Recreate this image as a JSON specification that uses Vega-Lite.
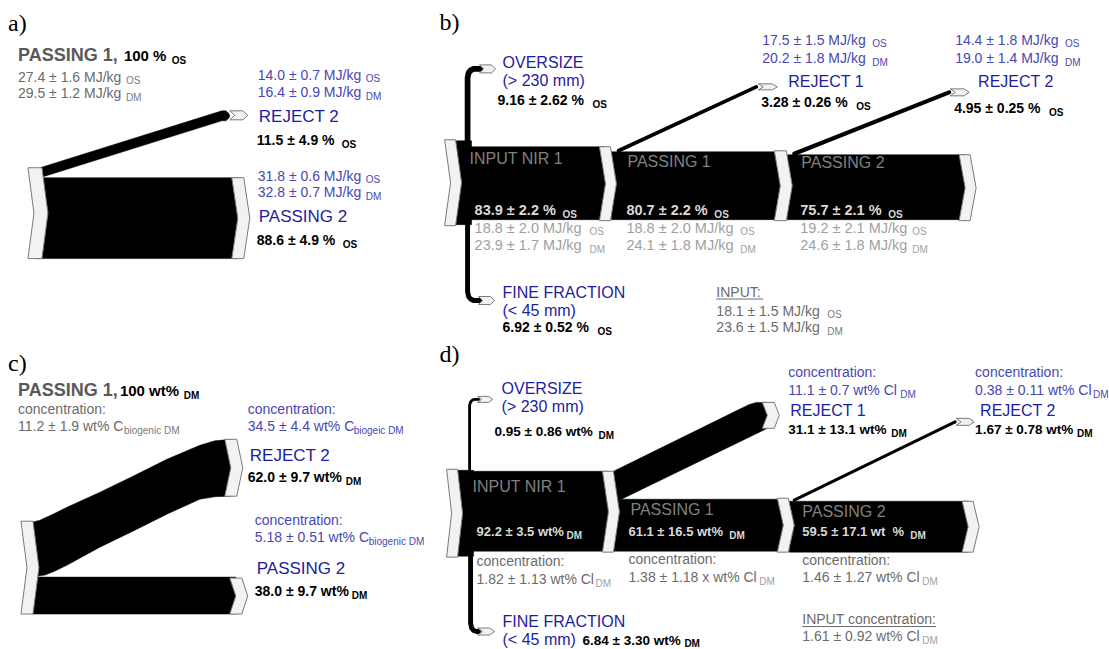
{
  "$schema": "https://vega.github.io/schema/vega-lite/v6.json",
  "width": 1109,
  "height": 649,
  "autosize": {"type": "fit", "contains": "padding"},
  "padding": 0,
  "background": "white",
  "config": {"view": {"stroke": null}},
  "datasets": {
    "shapes": [
      {"id":"a_main","kind":"band","i":0,"x":36,"y":178},{"id":"a_main","kind":"band","i":1,"x":238,"y":178},{"id":"a_main","kind":"band","i":2,"x":238,"y":259},{"id":"a_main","kind":"band","i":3,"x":36,"y":259},
      {"id":"a_rej","kind":"band","i":0,"x":40,"y":168},{"id":"a_rej","kind":"band","i":1,"x":222,"y":111},{"id":"a_rej","kind":"band","i":2,"x":226,"y":111},{"id":"a_rej","kind":"band","i":3,"x":229,"y":113.5},{"id":"a_rej","kind":"band","i":4,"x":230,"y":116},{"id":"a_rej","kind":"band","i":5,"x":229,"y":118.5},{"id":"a_rej","kind":"band","i":6,"x":226,"y":121},{"id":"a_rej","kind":"band","i":7,"x":222,"y":121},{"id":"a_rej","kind":"band","i":8,"x":40,"y":178},
      {"id":"b_side","kind":"band","i":0,"x":454,"y":141},{"id":"b_side","kind":"band","i":1,"x":472,"y":141},{"id":"b_side","kind":"band","i":2,"x":472,"y":225},{"id":"b_side","kind":"band","i":3,"x":454,"y":225},
      {"id":"b_in","kind":"band","i":0,"x":460,"y":147},{"id":"b_in","kind":"band","i":1,"x":606,"y":147},{"id":"b_in","kind":"band","i":2,"x":606,"y":220},{"id":"b_in","kind":"band","i":3,"x":460,"y":220},
      {"id":"b_p1","kind":"band","i":0,"x":612,"y":152},{"id":"b_p1","kind":"band","i":1,"x":781,"y":152},{"id":"b_p1","kind":"band","i":2,"x":781,"y":220},{"id":"b_p1","kind":"band","i":3,"x":612,"y":220},
      {"id":"b_p2","kind":"band","i":0,"x":788,"y":155},{"id":"b_p2","kind":"band","i":1,"x":966,"y":155},{"id":"b_p2","kind":"band","i":2,"x":966,"y":220},{"id":"b_p2","kind":"band","i":3,"x":788,"y":220},
      {"id":"c_rej","kind":"band","i":0,"x":32,"y":523},{"id":"c_rej","kind":"band","i":1,"x":40,"y":521},{"id":"c_rej","kind":"band","i":2,"x":55,"y":514},{"id":"c_rej","kind":"band","i":3,"x":67,"y":508},{"id":"c_rej","kind":"band","i":4,"x":100,"y":493},{"id":"c_rej","kind":"band","i":5,"x":133,"y":477},{"id":"c_rej","kind":"band","i":6,"x":167,"y":460},{"id":"c_rej","kind":"band","i":7,"x":200,"y":446},{"id":"c_rej","kind":"band","i":8,"x":215,"y":441.5},{"id":"c_rej","kind":"band","i":9,"x":231,"y":440},{"id":"c_rej","kind":"band","i":10,"x":231,"y":497},{"id":"c_rej","kind":"band","i":11,"x":215,"y":497.5},{"id":"c_rej","kind":"band","i":12,"x":200,"y":500},{"id":"c_rej","kind":"band","i":13,"x":167,"y":515},{"id":"c_rej","kind":"band","i":14,"x":133,"y":532},{"id":"c_rej","kind":"band","i":15,"x":100,"y":548},{"id":"c_rej","kind":"band","i":16,"x":67,"y":566},{"id":"c_rej","kind":"band","i":17,"x":55,"y":572},{"id":"c_rej","kind":"band","i":18,"x":45,"y":576},{"id":"c_rej","kind":"band","i":19,"x":32,"y":578},
      {"id":"c_pass","kind":"band","i":0,"x":32,"y":578},{"id":"c_pass","kind":"band","i":1,"x":236,"y":578},{"id":"c_pass","kind":"band","i":2,"x":236,"y":615},{"id":"c_pass","kind":"band","i":3,"x":32,"y":615},
      {"id":"d_side","kind":"band","i":0,"x":456,"y":471},{"id":"d_side","kind":"band","i":1,"x":474,"y":471},{"id":"d_side","kind":"band","i":2,"x":474,"y":557},{"id":"d_side","kind":"band","i":3,"x":456,"y":557},
      {"id":"d_in","kind":"band","i":0,"x":460,"y":472},{"id":"d_in","kind":"band","i":1,"x":609,"y":472},{"id":"d_in","kind":"band","i":2,"x":609,"y":552},{"id":"d_in","kind":"band","i":3,"x":460,"y":552},
      {"id":"d_rej1","kind":"band","i":0,"x":614,"y":472},{"id":"d_rej1","kind":"band","i":1,"x":740,"y":410},{"id":"d_rej1","kind":"band","i":2,"x":750,"y":405},{"id":"d_rej1","kind":"band","i":3,"x":757,"y":403},{"id":"d_rej1","kind":"band","i":4,"x":768,"y":403},{"id":"d_rej1","kind":"band","i":5,"x":768,"y":429},{"id":"d_rej1","kind":"band","i":6,"x":622,"y":500},{"id":"d_rej1","kind":"band","i":7,"x":614,"y":500},
      {"id":"d_p1","kind":"band","i":0,"x":614,"y":500},{"id":"d_p1","kind":"band","i":1,"x":784,"y":500},{"id":"d_p1","kind":"band","i":2,"x":784,"y":552},{"id":"d_p1","kind":"band","i":3,"x":614,"y":552},
      {"id":"d_p2","kind":"band","i":0,"x":790,"y":502},{"id":"d_p2","kind":"band","i":1,"x":969,"y":502},{"id":"d_p2","kind":"band","i":2,"x":969,"y":553},{"id":"d_p2","kind":"band","i":3,"x":790,"y":553},

      {"id":"A1","kind":"node","i":0,"x":28,"y":168},{"id":"A1","kind":"node","i":1,"x":42,"y":168},{"id":"A1","kind":"node","i":2,"x":48,"y":213.5},{"id":"A1","kind":"node","i":3,"x":42,"y":259},{"id":"A1","kind":"node","i":4,"x":28,"y":259},{"id":"A1","kind":"node","i":5,"x":34,"y":213.5},
      {"id":"A2","kind":"node","i":0,"x":232,"y":178},{"id":"A2","kind":"node","i":1,"x":244,"y":178},{"id":"A2","kind":"node","i":2,"x":250,"y":218.5},{"id":"A2","kind":"node","i":3,"x":244,"y":259},{"id":"A2","kind":"node","i":4,"x":232,"y":259},{"id":"A2","kind":"node","i":5,"x":238,"y":218.5},
      {"id":"A3","kind":"node","i":0,"x":230,"y":111},{"id":"A3","kind":"node","i":1,"x":243,"y":111},{"id":"A3","kind":"node","i":2,"x":248,"y":115.5},{"id":"A3","kind":"node","i":3,"x":243,"y":120},{"id":"A3","kind":"node","i":4,"x":230,"y":120},{"id":"A3","kind":"node","i":5,"x":235,"y":115.5},
      {"id":"B1","kind":"node","i":0,"x":445,"y":140},{"id":"B1","kind":"node","i":1,"x":456,"y":140},{"id":"B1","kind":"node","i":2,"x":462,"y":183},{"id":"B1","kind":"node","i":3,"x":456,"y":226},{"id":"B1","kind":"node","i":4,"x":445,"y":226},{"id":"B1","kind":"node","i":5,"x":451,"y":183},
      {"id":"B2","kind":"node","i":0,"x":600,"y":147},{"id":"B2","kind":"node","i":1,"x":611,"y":147},{"id":"B2","kind":"node","i":2,"x":617,"y":184},{"id":"B2","kind":"node","i":3,"x":611,"y":221},{"id":"B2","kind":"node","i":4,"x":600,"y":221},{"id":"B2","kind":"node","i":5,"x":606,"y":184},
      {"id":"B3","kind":"node","i":0,"x":775,"y":151},{"id":"B3","kind":"node","i":1,"x":787,"y":151},{"id":"B3","kind":"node","i":2,"x":793,"y":186},{"id":"B3","kind":"node","i":3,"x":787,"y":221},{"id":"B3","kind":"node","i":4,"x":775,"y":221},{"id":"B3","kind":"node","i":5,"x":781,"y":186},
      {"id":"B4","kind":"node","i":0,"x":960,"y":155},{"id":"B4","kind":"node","i":1,"x":971,"y":155},{"id":"B4","kind":"node","i":2,"x":977,"y":188},{"id":"B4","kind":"node","i":3,"x":971,"y":221},{"id":"B4","kind":"node","i":4,"x":960,"y":221},{"id":"B4","kind":"node","i":5,"x":966,"y":188},
      {"id":"B5","kind":"node","i":0,"x":480,"y":65},{"id":"B5","kind":"node","i":1,"x":492,"y":65},{"id":"B5","kind":"node","i":2,"x":496,"y":69},{"id":"B5","kind":"node","i":3,"x":492,"y":73},{"id":"B5","kind":"node","i":4,"x":480,"y":73},{"id":"B5","kind":"node","i":5,"x":484,"y":69},
      {"id":"B6","kind":"node","i":0,"x":479,"y":297},{"id":"B6","kind":"node","i":1,"x":491,"y":297},{"id":"B6","kind":"node","i":2,"x":495,"y":301},{"id":"B6","kind":"node","i":3,"x":491,"y":305},{"id":"B6","kind":"node","i":4,"x":479,"y":305},{"id":"B6","kind":"node","i":5,"x":483,"y":301},
      {"id":"B7","kind":"node","i":0,"x":759,"y":84},{"id":"B7","kind":"node","i":1,"x":773,"y":84},{"id":"B7","kind":"node","i":2,"x":778,"y":87},{"id":"B7","kind":"node","i":3,"x":773,"y":90},{"id":"B7","kind":"node","i":4,"x":759,"y":90},{"id":"B7","kind":"node","i":5,"x":764,"y":87},
      {"id":"B8","kind":"node","i":0,"x":951,"y":89},{"id":"B8","kind":"node","i":1,"x":965,"y":89},{"id":"B8","kind":"node","i":2,"x":970,"y":92.5},{"id":"B8","kind":"node","i":3,"x":965,"y":96},{"id":"B8","kind":"node","i":4,"x":951,"y":96},{"id":"B8","kind":"node","i":5,"x":956,"y":92.5},
      {"id":"C1","kind":"node","i":0,"x":21,"y":522},{"id":"C1","kind":"node","i":1,"x":33,"y":522},{"id":"C1","kind":"node","i":2,"x":39,"y":568.5},{"id":"C1","kind":"node","i":3,"x":33,"y":615},{"id":"C1","kind":"node","i":4,"x":21,"y":615},{"id":"C1","kind":"node","i":5,"x":27,"y":568.5},
      {"id":"C2","kind":"node","i":0,"x":225,"y":440},{"id":"C2","kind":"node","i":1,"x":237,"y":440},{"id":"C2","kind":"node","i":2,"x":243,"y":468.5},{"id":"C2","kind":"node","i":3,"x":237,"y":497},{"id":"C2","kind":"node","i":4,"x":225,"y":497},{"id":"C2","kind":"node","i":5,"x":231,"y":468.5},
      {"id":"C3","kind":"node","i":0,"x":230,"y":579},{"id":"C3","kind":"node","i":1,"x":242,"y":579},{"id":"C3","kind":"node","i":2,"x":248,"y":597},{"id":"C3","kind":"node","i":3,"x":242,"y":615},{"id":"C3","kind":"node","i":4,"x":230,"y":615},{"id":"C3","kind":"node","i":5,"x":236,"y":597},
      {"id":"D1","kind":"node","i":0,"x":447,"y":470},{"id":"D1","kind":"node","i":1,"x":458,"y":470},{"id":"D1","kind":"node","i":2,"x":463,"y":514},{"id":"D1","kind":"node","i":3,"x":458,"y":558},{"id":"D1","kind":"node","i":4,"x":447,"y":558},{"id":"D1","kind":"node","i":5,"x":452,"y":514},
      {"id":"D2","kind":"node","i":0,"x":603,"y":472},{"id":"D2","kind":"node","i":1,"x":614,"y":472},{"id":"D2","kind":"node","i":2,"x":620,"y":512.5},{"id":"D2","kind":"node","i":3,"x":614,"y":553},{"id":"D2","kind":"node","i":4,"x":603,"y":553},{"id":"D2","kind":"node","i":5,"x":609,"y":512.5},
      {"id":"D3","kind":"node","i":0,"x":778,"y":499},{"id":"D3","kind":"node","i":1,"x":789,"y":499},{"id":"D3","kind":"node","i":2,"x":795,"y":526},{"id":"D3","kind":"node","i":3,"x":789,"y":553},{"id":"D3","kind":"node","i":4,"x":778,"y":553},{"id":"D3","kind":"node","i":5,"x":784,"y":526},
      {"id":"D4","kind":"node","i":0,"x":963,"y":502},{"id":"D4","kind":"node","i":1,"x":974,"y":502},{"id":"D4","kind":"node","i":2,"x":980,"y":527.5},{"id":"D4","kind":"node","i":3,"x":974,"y":553},{"id":"D4","kind":"node","i":4,"x":963,"y":553},{"id":"D4","kind":"node","i":5,"x":969,"y":527.5},
      {"id":"D5","kind":"node","i":0,"x":763,"y":403},{"id":"D5","kind":"node","i":1,"x":775,"y":403},{"id":"D5","kind":"node","i":2,"x":780,"y":416},{"id":"D5","kind":"node","i":3,"x":775,"y":429},{"id":"D5","kind":"node","i":4,"x":763,"y":429},{"id":"D5","kind":"node","i":5,"x":768,"y":416},
      {"id":"D6","kind":"node","i":0,"x":478,"y":397},{"id":"D6","kind":"node","i":1,"x":489,"y":397},{"id":"D6","kind":"node","i":2,"x":493,"y":400},{"id":"D6","kind":"node","i":3,"x":489,"y":403},{"id":"D6","kind":"node","i":4,"x":478,"y":403},{"id":"D6","kind":"node","i":5,"x":482,"y":400},
      {"id":"D7","kind":"node","i":0,"x":478,"y":629},{"id":"D7","kind":"node","i":1,"x":490,"y":629},{"id":"D7","kind":"node","i":2,"x":495,"y":632.5},{"id":"D7","kind":"node","i":3,"x":490,"y":636},{"id":"D7","kind":"node","i":4,"x":478,"y":636},{"id":"D7","kind":"node","i":5,"x":483,"y":632.5},
      {"id":"D8","kind":"node","i":0,"x":957,"y":419},{"id":"D8","kind":"node","i":1,"x":970,"y":419},{"id":"D8","kind":"node","i":2,"x":975,"y":422.5},{"id":"D8","kind":"node","i":3,"x":970,"y":426},{"id":"D8","kind":"node","i":4,"x":957,"y":426},{"id":"D8","kind":"node","i":5,"x":962,"y":422.5}
    ],
    "flows": [
      {"id":"b_over","pct":9.16,"i":0,"x":468,"y":146},{"id":"b_over","pct":9.16,"i":1,"x":468,"y":78},{"id":"b_over","pct":9.16,"i":2,"x":469,"y":73},{"id":"b_over","pct":9.16,"i":3,"x":471,"y":70.5},{"id":"b_over","pct":9.16,"i":4,"x":474,"y":69},{"id":"b_over","pct":9.16,"i":5,"x":481,"y":69},
      {"id":"b_fine","pct":6.92,"i":0,"x":468,"y":224},{"id":"b_fine","pct":6.92,"i":1,"x":468,"y":292},{"id":"b_fine","pct":6.92,"i":2,"x":469,"y":297},{"id":"b_fine","pct":6.92,"i":3,"x":471,"y":299.5},{"id":"b_fine","pct":6.92,"i":4,"x":474,"y":301},{"id":"b_fine","pct":6.92,"i":5,"x":480,"y":301},
      {"id":"b_r1","pct":3.28,"i":0,"x":619,"y":151},{"id":"b_r1","pct":3.28,"i":1,"x":757,"y":87},
      {"id":"b_r2","pct":4.95,"i":0,"x":795,"y":154},{"id":"b_r2","pct":4.95,"i":1,"x":950,"y":92.5},
      {"id":"d_over","pct":0.95,"i":0,"x":470,"y":471},{"id":"d_over","pct":0.95,"i":1,"x":470,"y":406},{"id":"d_over","pct":0.95,"i":2,"x":471,"y":402.5},{"id":"d_over","pct":0.95,"i":3,"x":473,"y":400.5},{"id":"d_over","pct":0.95,"i":4,"x":476,"y":400},{"id":"d_over","pct":0.95,"i":5,"x":479,"y":400},
      {"id":"d_fine","pct":6.84,"i":0,"x":471,"y":556},{"id":"d_fine","pct":6.84,"i":1,"x":471,"y":624},{"id":"d_fine","pct":6.84,"i":2,"x":472,"y":629},{"id":"d_fine","pct":6.84,"i":3,"x":474,"y":631.5},{"id":"d_fine","pct":6.84,"i":4,"x":477,"y":632.5},{"id":"d_fine","pct":6.84,"i":5,"x":479,"y":632.5},
      {"id":"d_r2","pct":1.67,"i":0,"x":795,"y":501},{"id":"d_r2","pct":1.67,"i":1,"x":956,"y":422.5}
    ],
    "underlines": [
      {"x":717,"x2":764,"y":299.5},
      {"x":803,"x2":937,"y":627.5}
    ],
    "texts": [
      {"x":8,"y":31,"t":"a)","r":"title"},
      {"x":18,"y":61,"t":"PASSING 1,","r":"node"},
      {"x":124,"y":61,"t":"100 %","r":"share"},
      {"x":172,"y":64,"t":"OS","r":"bsub"},
      {"x":18,"y":82,"t":"27.4 ± 1.6 MJ/kg","r":"prop"},
      {"x":126,"y":84,"t":"OS","r":"propSub"},
      {"x":18,"y":98,"t":"29.5 ± 1.2 MJ/kg","r":"prop"},
      {"x":126,"y":101,"t":"DM","r":"propSub"},
      {"x":258,"y":80,"t":"14.0 ± 0.7 MJ/kg","r":"propOut"},
      {"x":366,"y":82,"t":"OS","r":"propOutSub"},
      {"x":258,"y":97,"t":"16.4 ± 0.9 MJ/kg","r":"propOut"},
      {"x":366,"y":100,"t":"DM","r":"propOutSub"},
      {"x":259,"y":122,"t":"REJECT 2","r":"outA"},
      {"x":257,"y":145,"t":"11.5 ± 4.9 %","r":"pct"},
      {"x":342,"y":148,"t":"OS","r":"bsub"},
      {"x":258,"y":181,"t":"31.8 ± 0.6 MJ/kg","r":"propOut"},
      {"x":366,"y":183,"t":"OS","r":"propOutSub"},
      {"x":258,"y":197,"t":"32.8 ± 0.7 MJ/kg","r":"propOut"},
      {"x":366,"y":200,"t":"DM","r":"propOutSub"},
      {"x":259,"y":222,"t":"PASSING 2","r":"outA"},
      {"x":257,"y":245,"t":"88.6 ± 4.9 %","r":"pct"},
      {"x":343,"y":248,"t":"OS","r":"bsub"},

      {"x":440,"y":30,"t":"b)","r":"title"},
      {"x":503,"y":68,"t":"OVERSIZE","r":"outB"},
      {"x":503,"y":86,"t":"(> 230 mm)","r":"outB"},
      {"x":498,"y":105,"t":"9.16 ± 2.62 %","r":"pct"},
      {"x":593,"y":108,"t":"OS","r":"bsub"},
      {"x":470,"y":164,"t":"INPUT NIR 1","r":"stream"},
      {"x":475,"y":215,"t":"83.9 ± 2.2 %","r":"pctIn"},
      {"x":563,"y":218,"t":"OS","r":"bsubIn"},
      {"x":475,"y":233,"t":"18.8 ± 2.0 MJ/kg","r":"propLight"},
      {"x":590,"y":235,"t":"OS","r":"propLightSub"},
      {"x":475,"y":250,"t":"23.9 ± 1.7 MJ/kg","r":"propLight"},
      {"x":590,"y":253,"t":"DM","r":"propLightSub"},
      {"x":628,"y":167,"t":"PASSING 1","r":"stream"},
      {"x":627,"y":215,"t":"80.7 ± 2.2 %","r":"pctIn"},
      {"x":715,"y":218,"t":"OS","r":"bsubIn"},
      {"x":627,"y":233,"t":"18.8 ± 2.0 MJ/kg","r":"propLight"},
      {"x":741,"y":235,"t":"OS","r":"propLightSub"},
      {"x":627,"y":250,"t":"24.1 ± 1.8 MJ/kg","r":"propLight"},
      {"x":741,"y":253,"t":"DM","r":"propLightSub"},
      {"x":802,"y":168,"t":"PASSING 2","r":"stream"},
      {"x":801,"y":215,"t":"75.7 ± 2.1 %","r":"pctIn"},
      {"x":889,"y":218,"t":"OS","r":"bsubIn"},
      {"x":801,"y":233,"t":"19.2 ± 2.1 MJ/kg","r":"propLight"},
      {"x":913,"y":235,"t":"OS","r":"propLightSub"},
      {"x":801,"y":250,"t":"24.6 ± 1.8 MJ/kg","r":"propLight"},
      {"x":913,"y":253,"t":"DM","r":"propLightSub"},
      {"x":503,"y":298,"t":"FINE FRACTION","r":"outB"},
      {"x":503,"y":316,"t":"(< 45 mm)","r":"outB"},
      {"x":503,"y":333,"t":"6.92 ± 0.52 %","r":"pct"},
      {"x":598,"y":336,"t":"OS","r":"bsub"},
      {"x":717,"y":297,"t":"INPUT:","r":"prop"},
      {"x":717,"y":316,"t":"18.1 ± 1.5 MJ/kg","r":"prop"},
      {"x":828,"y":318,"t":"OS","r":"propSub"},
      {"x":717,"y":333,"t":"23.6 ± 1.5 MJ/kg","r":"prop"},
      {"x":828,"y":336,"t":"DM","r":"propSub"},
      {"x":763,"y":45,"t":"17.5 ± 1.5 MJ/kg","r":"propOut"},
      {"x":873,"y":47,"t":"OS","r":"propOutSub"},
      {"x":763,"y":63,"t":"20.2 ± 1.8 MJ/kg","r":"propOut"},
      {"x":873,"y":66,"t":"DM","r":"propOutSub"},
      {"x":789,"y":87,"t":"REJECT 1","r":"outB"},
      {"x":762,"y":107,"t":"3.28 ± 0.26 %","r":"pct"},
      {"x":857,"y":110,"t":"OS","r":"bsub"},
      {"x":956,"y":45,"t":"14.4 ± 1.8 MJ/kg","r":"propOut"},
      {"x":1066,"y":47,"t":"OS","r":"propOutSub"},
      {"x":956,"y":63,"t":"19.0 ± 1.4 MJ/kg","r":"propOut"},
      {"x":1066,"y":66,"t":"DM","r":"propOutSub"},
      {"x":979,"y":87,"t":"REJECT 2","r":"outB"},
      {"x":955,"y":113,"t":"4.95 ± 0.25 %","r":"pct"},
      {"x":1050,"y":116,"t":"OS","r":"bsub"},

      {"x":8,"y":372,"t":"c)","r":"title"},
      {"x":18,"y":397,"t":"PASSING 1,","r":"node"},
      {"x":120,"y":397,"t":"100 wt%","r":"share"},
      {"x":184,"y":400,"t":"DM","r":"bsub"},
      {"x":18,"y":415,"t":"concentration:","r":"prop"},
      {"x":18,"y":432,"t":"11.2 ± 1.9 wt% C","r":"prop"},
      {"x":124,"y":435,"t":"biogenic DM","r":"propSub"},
      {"x":248,"y":415,"t":"concentration:","r":"propOut"},
      {"x":248,"y":432,"t":"34.5 ± 4.4 wt% C","r":"propOut"},
      {"x":354,"y":435,"t":"biogeic DM","r":"propOutSub"},
      {"x":250,"y":462,"t":"REJECT 2","r":"outA"},
      {"x":248,"y":483,"t":"62.0 ± 9.7 wt%","r":"pct"},
      {"x":346,"y":486,"t":"DM","r":"bsub"},
      {"x":255,"y":526,"t":"concentration:","r":"propOut"},
      {"x":255,"y":543,"t":"5.18 ± 0.51 wt% C","r":"propOut"},
      {"x":369,"y":546,"t":"biogenic DM","r":"propOutSub"},
      {"x":257,"y":575,"t":"PASSING 2","r":"outA"},
      {"x":255,"y":597,"t":"38.0 ± 9.7 wt%","r":"pct"},
      {"x":352,"y":600,"t":"DM","r":"bsub"},

      {"x":440,"y":363,"t":"d)","r":"title"},
      {"x":502,"y":395,"t":"OVERSIZE","r":"outB"},
      {"x":502,"y":413,"t":"(> 230 mm)","r":"outB"},
      {"x":495,"y":437,"t":"0.95 ± 0.86 wt%","r":"pctD"},
      {"x":599,"y":440,"t":"DM","r":"bsub"},
      {"x":473,"y":493,"t":"INPUT NIR 1","r":"stream"},
      {"x":477,"y":537,"t":"92.2 ± 3.5 wt%","r":"pctInD"},
      {"x":567,"y":540,"t":"DM","r":"bsubIn"},
      {"x":477,"y":567,"t":"concentration:","r":"prop"},
      {"x":477,"y":585,"t":"1.82 ± 1.13 wt% Cl","r":"prop"},
      {"x":596,"y":588,"t":"DM","r":"propLightSub"},
      {"x":631,"y":516,"t":"PASSING 1","r":"stream"},
      {"x":629,"y":537,"t":"61.1 ± 16.5 wt%","r":"pctInD"},
      {"x":730,"y":540,"t":"DM","r":"bsubIn"},
      {"x":629,"y":565,"t":"concentration:","r":"prop"},
      {"x":629,"y":583,"t":"1.38 ± 1.18 x wt% Cl","r":"prop"},
      {"x":760,"y":586,"t":"DM","r":"propLightSub"},
      {"x":503,"y":628,"t":"FINE FRACTION","r":"outB"},
      {"x":503,"y":646,"t":"(< 45 mm)","r":"outB"},
      {"x":583,"y":646,"t":"6.84 ± 3.30 wt%","r":"pctD"},
      {"x":685,"y":648,"t":"DM","r":"bsub"},
      {"x":789,"y":378,"t":"concentration:","r":"propOut"},
      {"x":789,"y":396,"t":"11.1 ± 0.7 wt% Cl","r":"propOut"},
      {"x":901,"y":399,"t":"DM","r":"propOutSub"},
      {"x":791,"y":417,"t":"REJECT 1","r":"outB"},
      {"x":789,"y":435,"t":"31.1 ± 13.1 wt%","r":"pctD"},
      {"x":892,"y":438,"t":"DM","r":"bsub"},
      {"x":976,"y":378,"t":"concentration:","r":"propOut"},
      {"x":976,"y":396,"t":"0.38 ± 0.11 wt% Cl","r":"propOut"},
      {"x":1094,"y":399,"t":"DM","r":"propOutSub"},
      {"x":981,"y":417,"t":"REJECT 2","r":"outB"},
      {"x":976,"y":435,"t":"1.67 ± 0.78 wt%","r":"pctD"},
      {"x":1078,"y":438,"t":"DM","r":"bsub"},
      {"x":803,"y":518,"t":"PASSING 2","r":"stream"},
      {"x":803,"y":537,"t":"59.5 ± 17.1 wt\u00a0\u00a0%","r":"pctInD"},
      {"x":911,"y":540,"t":"DM","r":"bsubIn"},
      {"x":803,"y":566,"t":"concentration:","r":"prop"},
      {"x":803,"y":583,"t":"1.46 ± 1.27 wt% Cl","r":"prop"},
      {"x":923,"y":586,"t":"DM","r":"propLightSub"},
      {"x":803,"y":625,"t":"INPUT concentration:","r":"prop"},
      {"x":803,"y":642,"t":"1.61 ± 0.92 wt% Cl","r":"prop"},
      {"x":923,"y":645,"t":"DM","r":"propLightSub"}
    ]
  },
  "encoding": {
    "x": {"field": "x", "type": "quantitative", "scale": {"domain": [0, 1109], "nice": false, "zero": false}, "axis": null},
    "y": {"field": "y", "type": "quantitative", "scale": {"domain": [0, 649], "reverse": true, "nice": false, "zero": false}, "axis": null}
  },
  "layer": [
    {
      "data": {"name": "shapes"},
      "transform": [{"filter": "datum.kind === 'band'"}],
      "mark": {"type": "line", "interpolate": "linear-closed", "fill": "#000000", "stroke": "#000000", "strokeWidth": 0.5},
      "encoding": {"detail": {"field": "id"}, "order": {"field": "i", "type": "quantitative"}}
    },
    {
      "data": {"name": "flows"},
      "mark": {"type": "line", "color": "#000000", "strokeCap": "round", "strokeJoin": "round"},
      "encoding": {
        "detail": {"field": "id"},
        "order": {"field": "i", "type": "quantitative"},
        "strokeWidth": {"field": "pct", "type": "quantitative", "scale": {"domain": [0, 10], "range": [2.5, 6]}, "legend": null}
      }
    },
    {
      "data": {"name": "shapes"},
      "transform": [{"filter": "datum.kind === 'node'"}],
      "mark": {"type": "line", "interpolate": "linear-closed", "fill": "#f2f2f2", "stroke": "#7a7a7a", "strokeWidth": 1},
      "encoding": {"detail": {"field": "id"}, "order": {"field": "i", "type": "quantitative"}}
    },
    {
      "data": {"name": "underlines"},
      "mark": {"type": "rule", "color": "#6b6b6b", "strokeWidth": 1},
      "encoding": {"x2": {"field": "x2"}}
    },
    {
      "data": {"name": "texts"},
      "transform": [{"filter": "datum.r === 'title'"}],
      "mark": {"type": "text", "align": "left", "baseline": "alphabetic", "font": "Liberation Serif", "fontSize": 24, "color": "#000000"},
      "encoding": {"text": {"field": "t"}}
    },
    {
      "data": {"name": "texts"},
      "transform": [{"filter": "datum.r === 'node'"}],
      "mark": {"type": "text", "align": "left", "baseline": "alphabetic", "font": "Liberation Sans", "fontWeight": "bold", "fontSize": 18, "color": "#595959"},
      "encoding": {"text": {"field": "t"}}
    },
    {
      "data": {"name": "texts"},
      "transform": [{"filter": "datum.r === 'share'"}],
      "mark": {"type": "text", "align": "left", "baseline": "alphabetic", "font": "Liberation Sans", "fontWeight": "bold", "fontSize": 15, "color": "#000000"},
      "encoding": {"text": {"field": "t"}}
    },
    {
      "data": {"name": "texts"},
      "transform": [{"filter": "datum.r === 'pct'"}],
      "mark": {"type": "text", "align": "left", "baseline": "alphabetic", "font": "Liberation Sans", "fontWeight": "bold", "fontSize": 14, "color": "#000000"},
      "encoding": {"text": {"field": "t"}}
    },
    {
      "data": {"name": "texts"},
      "transform": [{"filter": "datum.r === 'pctD'"}],
      "mark": {"type": "text", "align": "left", "baseline": "alphabetic", "font": "Liberation Sans", "fontWeight": "bold", "fontSize": 13.5, "color": "#000000"},
      "encoding": {"text": {"field": "t"}}
    },
    {
      "data": {"name": "texts"},
      "transform": [{"filter": "datum.r === 'pctIn'"}],
      "mark": {"type": "text", "align": "left", "baseline": "alphabetic", "font": "Liberation Sans", "fontWeight": "bold", "fontSize": 14.5, "color": "#d9d9d9"},
      "encoding": {"text": {"field": "t"}}
    },
    {
      "data": {"name": "texts"},
      "transform": [{"filter": "datum.r === 'pctInD'"}],
      "mark": {"type": "text", "align": "left", "baseline": "alphabetic", "font": "Liberation Sans", "fontWeight": "bold", "fontSize": 13, "color": "#d9d9d9"},
      "encoding": {"text": {"field": "t"}}
    },
    {
      "data": {"name": "texts"},
      "transform": [{"filter": "datum.r === 'bsub'"}],
      "mark": {"type": "text", "align": "left", "baseline": "alphabetic", "font": "Liberation Sans", "fontWeight": "bold", "fontSize": 10, "color": "#000000"},
      "encoding": {"text": {"field": "t"}}
    },
    {
      "data": {"name": "texts"},
      "transform": [{"filter": "datum.r === 'bsubIn'"}],
      "mark": {"type": "text", "align": "left", "baseline": "alphabetic", "font": "Liberation Sans", "fontWeight": "bold", "fontSize": 10, "color": "#d9d9d9"},
      "encoding": {"text": {"field": "t"}}
    },
    {
      "data": {"name": "texts"},
      "transform": [{"filter": "datum.r === 'prop'"}],
      "mark": {"type": "text", "align": "left", "baseline": "alphabetic", "font": "Liberation Sans", "fontSize": 14, "color": "#6b6b6b"},
      "encoding": {"text": {"field": "t"}}
    },
    {
      "data": {"name": "texts"},
      "transform": [{"filter": "datum.r === 'propSub'"}],
      "mark": {"type": "text", "align": "left", "baseline": "alphabetic", "font": "Liberation Sans", "fontSize": 10, "color": "#7a7a7a"},
      "encoding": {"text": {"field": "t"}}
    },
    {
      "data": {"name": "texts"},
      "transform": [{"filter": "datum.r === 'propLight'"}],
      "mark": {"type": "text", "align": "left", "baseline": "alphabetic", "font": "Liberation Sans", "fontSize": 14.5, "color": "#a0a0a0"},
      "encoding": {"text": {"field": "t"}}
    },
    {
      "data": {"name": "texts"},
      "transform": [{"filter": "datum.r === 'propLightSub'"}],
      "mark": {"type": "text", "align": "left", "baseline": "alphabetic", "font": "Liberation Sans", "fontSize": 10, "color": "#a0a0a0"},
      "encoding": {"text": {"field": "t"}}
    },
    {
      "data": {"name": "texts"},
      "transform": [{"filter": "datum.r === 'propOut'"}],
      "mark": {"type": "text", "align": "left", "baseline": "alphabetic", "font": "Liberation Sans", "fontSize": 14, "color": "#4747b2"},
      "encoding": {"text": {"field": "t"}}
    },
    {
      "data": {"name": "texts"},
      "transform": [{"filter": "datum.r === 'propOutSub'"}],
      "mark": {"type": "text", "align": "left", "baseline": "alphabetic", "font": "Liberation Sans", "fontSize": 10, "color": "#4747b2"},
      "encoding": {"text": {"field": "t"}}
    },
    {
      "data": {"name": "texts"},
      "transform": [{"filter": "datum.r === 'outA'"}],
      "mark": {"type": "text", "align": "left", "baseline": "alphabetic", "font": "Liberation Sans", "fontSize": 17, "color": "#1d1d9d"},
      "encoding": {"text": {"field": "t"}}
    },
    {
      "data": {"name": "texts"},
      "transform": [{"filter": "datum.r === 'outB'"}],
      "mark": {"type": "text", "align": "left", "baseline": "alphabetic", "font": "Liberation Sans", "fontSize": 16, "color": "#1d1d9d"},
      "encoding": {"text": {"field": "t"}}
    },
    {
      "data": {"name": "texts"},
      "transform": [{"filter": "datum.r === 'stream'"}],
      "mark": {"type": "text", "align": "left", "baseline": "alphabetic", "font": "Liberation Sans", "fontSize": 16, "color": "#808080"},
      "encoding": {"text": {"field": "t"}}
    }
  ]
}
